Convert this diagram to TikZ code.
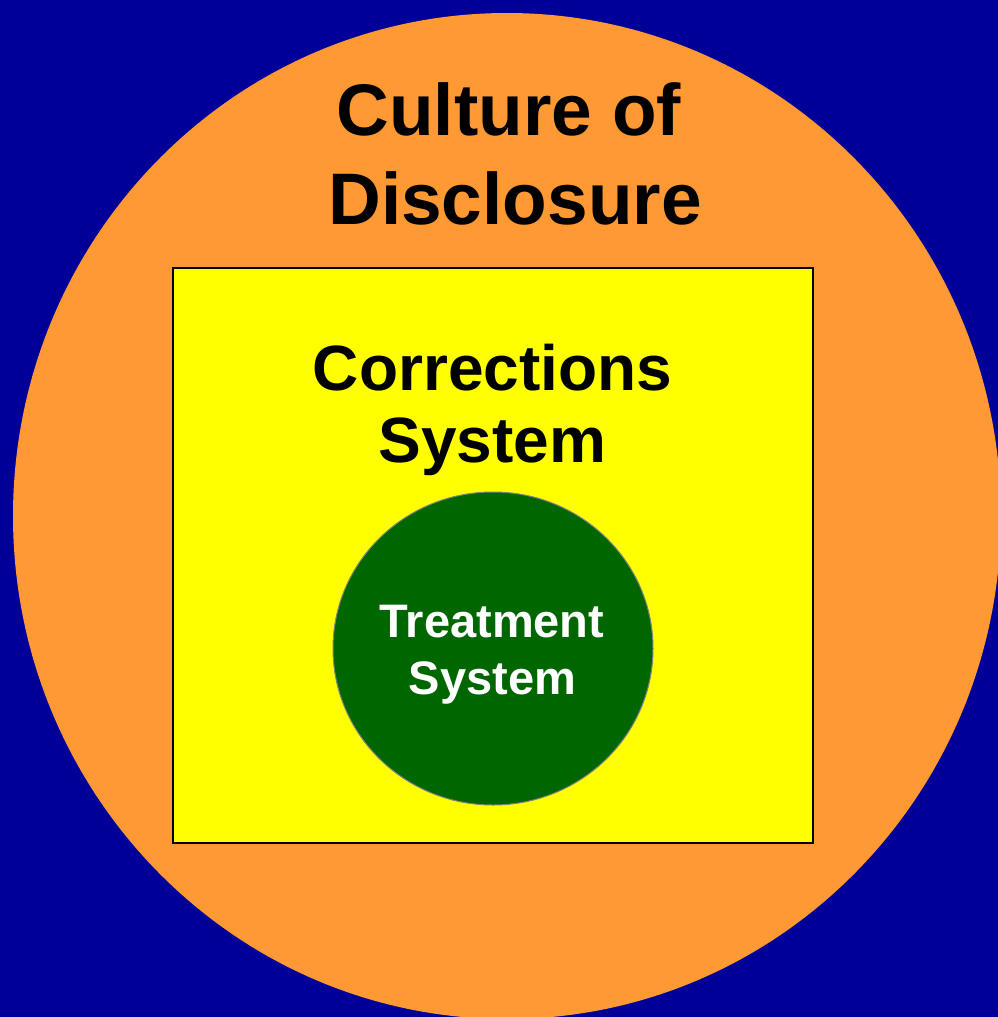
\documentclass[tikz,border=0pt]{standalone}
\usepackage{fontspec}
\setmainfont{Liberation Sans}
\usetikzlibrary{shapes.geometric}
\definecolor{bgblue}{HTML}{000099}
\definecolor{ringorange}{HTML}{FF9933}
\definecolor{boxyellow}{HTML}{FFFF00}
\definecolor{treatgreen}{HTML}{006600}
\tikzset{
  lbl/.style={anchor=base, inner sep=0pt, font=\bfseries},
  big/.style={lbl, font=\bfseries\fontsize{73}{80}\selectfont, text=black},
  mid/.style={lbl, font=\bfseries\fontsize{64}{70}\selectfont, text=black},
  small/.style={lbl, font=\bfseries\fontsize{47}{52}\selectfont, text=white}
}
\begin{document}
\begin{tikzpicture}[x=1pt,y=-1pt]
  \useasboundingbox (0,0) rectangle (998,1017);
  \fill[bgblue] (0,0) rectangle (998,1017);
  \begin{scope}
    \clip (0,0) rectangle (998,1017);
    \fill[ringorange] (507,516) ellipse [x radius=494, y radius=503];
  \end{scope}
  \node[draw=black, line width=1.5pt, fill=boxyellow, inner sep=0pt,
        minimum width=640pt, minimum height=575pt] (box) at (493,555.5) {};
  \node[draw=gray, line width=1pt, fill=treatgreen, ellipse, inner sep=0pt,
        minimum width=320pt, minimum height=313pt] (treat) at (493,648.5) {};
  \node[big] (c1) at (509,135) {Culture of};
  \node[big] (c2) at (515,224) {Disclosure};
  \node[mid] (k1) at (492.5,390) {Corrections};
  \node[mid] (k2) at (492.5,462) {System};
  \node[small] (t1) at (492,637) {Treatment};
  \node[small] (t2) at (492.5,694) {System};
\end{tikzpicture}
\end{document}
